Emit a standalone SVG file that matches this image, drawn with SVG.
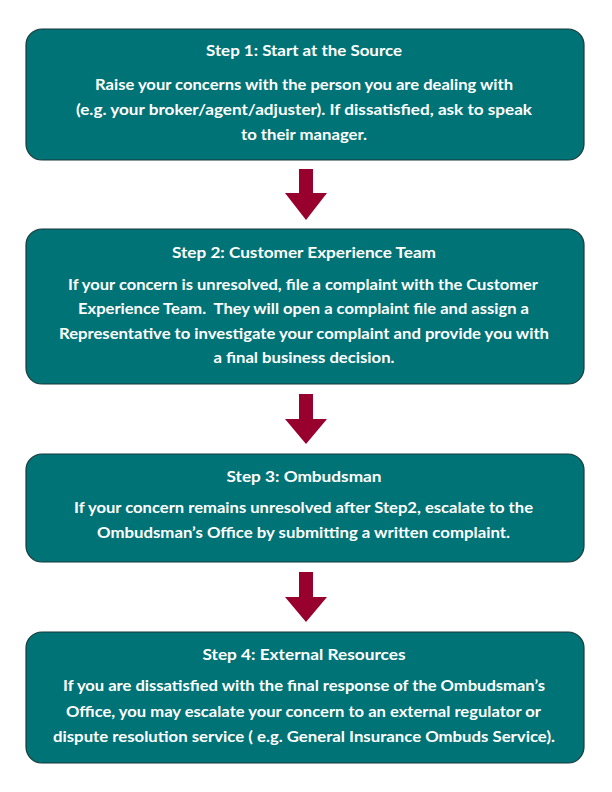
<svg xmlns="http://www.w3.org/2000/svg" width="612" height="792" viewBox="0 0 612 792">
<style>
.box{fill:#007377;stroke:#17393b;stroke-width:1.2}
.t{font-family:Lato,"Liberation Sans",sans-serif;font-weight:700;font-size:16px;fill:#ffffff;text-anchor:middle}
.arr{fill:#98002e}
</style>
<rect width="612" height="792" fill="#ffffff"/>
<g id="step1">
<rect class="box" x="26" y="29" width="558" height="131" rx="16"/>
<text class="t" x="304" y="56" textLength="196" lengthAdjust="spacingAndGlyphs">Step 1: Start at the Source</text>
<text class="t" x="304" y="90" textLength="418" lengthAdjust="spacingAndGlyphs">Raise your concerns with the person you are dealing with</text>
<text class="t" x="304" y="115" textLength="456" lengthAdjust="spacingAndGlyphs">(e.g. your broker/agent/adjuster). If dissatisfied, ask to speak</text>
<text class="t" x="304" y="140" textLength="126" lengthAdjust="spacingAndGlyphs">to their manager.</text>
</g>
<g id="step2">
<rect class="box" x="26" y="229" width="558" height="155" rx="16"/>
<text class="t" x="304" y="258" textLength="264" lengthAdjust="spacingAndGlyphs">Step 2: Customer Experience Team</text>
<text class="t" x="303" y="290" textLength="470" lengthAdjust="spacingAndGlyphs">If your concern is unresolved, file a complaint with the Customer</text>
<text class="t" x="303.5" y="314" textLength="451" lengthAdjust="spacingAndGlyphs" xml:space="preserve">Experience Team.  They will open a complaint file and assign a</text>
<text class="t" x="304" y="339" textLength="490" lengthAdjust="spacingAndGlyphs">Representative to investigate your complaint and provide you with</text>
<text class="t" x="304" y="363" textLength="181" lengthAdjust="spacingAndGlyphs">a final business decision.</text>
</g>
<g id="step3">
<rect class="box" x="26" y="454" width="558" height="108" rx="16"/>
<text class="t" x="304" y="482" textLength="155" lengthAdjust="spacingAndGlyphs">Step 3: Ombudsman</text>
<text class="t" x="303.5" y="513" textLength="459" lengthAdjust="spacingAndGlyphs">If your concern remains unresolved after Step2, escalate to the</text>
<text class="t" x="303.5" y="538" textLength="413" lengthAdjust="spacingAndGlyphs">Ombudsman’s Office by submitting a written complaint.</text>
</g>
<g id="step4">
<rect class="box" x="26" y="632" width="558" height="131" rx="16"/>
<text class="t" x="304" y="660" textLength="203" lengthAdjust="spacingAndGlyphs">Step 4: External Resources</text>
<text class="t" x="304" y="691" textLength="482" lengthAdjust="spacingAndGlyphs">If you are dissatisfied with the final response of the Ombudsman’s</text>
<text class="t" x="303.5" y="717" textLength="475" lengthAdjust="spacingAndGlyphs">Office, you may escalate your concern to an external regulator or</text>
<text class="t" x="304" y="742" textLength="502" lengthAdjust="spacingAndGlyphs">dispute resolution service ( e.g. General Insurance Ombuds Service).</text>
</g>
<g id="connectors">
<polygon class="arr" points="299,169 313,169 313,193 327,193 306,220 285,193 299,193"/>
<polygon class="arr" points="299,394 313,394 313,419 327,419 306,444 285,419 299,419"/>
<polygon class="arr" points="299,572 313,572 313,597 327,597 306,622 285,597 299,597"/>
</g>
</svg>
